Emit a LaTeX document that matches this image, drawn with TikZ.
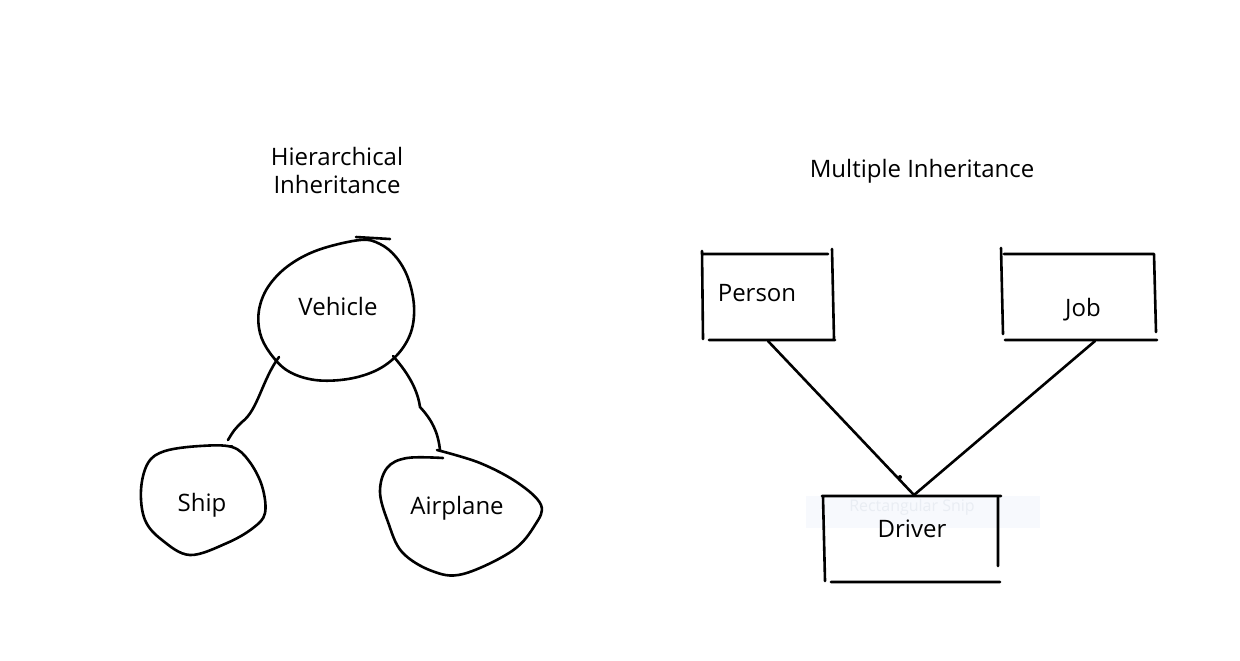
\documentclass[tikz,border=0pt]{standalone}
\usepackage{fontspec}
\setmainfont{Open Sans}
\definecolor{snipband}{HTML}{F7F9FD}
\definecolor{sniptext}{HTML}{E9EDF3}
\begin{document}
\begin{tikzpicture}[x=0.5pt, y=-0.5pt,
                every node/.style = {font=\fontsize{12}{15}\selectfont, align=center},
                sketch/.style = {line width=1.3pt, line cap=round, line join=round},
                blob/.style = {sketch, smooth cycle, tension=0.6}]
    \useasboundingbox (0,0) rectangle (1240,660);

    % left part
    \node (hier) at (337,170) {Hierarchical\\[-1pt]Inheritance};
    \draw[sketch] plot[blob] coordinates {(360,240) (318,250) (288,266) (268,287) (259,310) (260,333)
        (270,353) (288,371) (315,380) (348,379) (377,370) (398,354) (411,332) (414,306) (408,278) (396,257) (380,244)};
    \draw[sketch] (356,237) -- (390,239);
    \node (vehicle) at (338,306) {Vehicle};

    \draw[sketch] plot[blob] coordinates {(200,446) (232,447) (249,461) (262,486) (265,513) (253,528)
        (227,543) (190,555) (162,540) (145,520) (141,490) (148,463) (165,451)};
    \draw[sketch] (226,446) -- (232,446);
    \node (ship) at (202,505) {Ship};

    \draw[sketch] plot[smooth, tension=0.6] coordinates {(443,458) (407,458) (387,468) (380,492)
        (388,522) (402,552) (432,571) (463,574) (512,551) (535,525) (541,505) (518,483) (480,463) (437,450)};
    \node (airplane) at (457,508) {Airplane};

    \coordinate (vehicle-l) at (279,357);
    \coordinate (vehicle-r) at (393,356);
    \coordinate (ship-t) at (228,440);
    \coordinate (airplane-t) at (440,450);
    \draw[sketch] (vehicle-l) .. controls (262,380) and (258,410) .. (242,422) .. controls (234,430) .. (ship-t);
    \draw[sketch] (vehicle-r) .. controls (410,375) and (418,392) .. (420,407) .. controls (432,420) and (438,432) .. (airplane-t);

    % right part
    \node (multi) at (922,171) {Multiple Inheritance};

    \draw[sketch] (703,254) -- (828,254) (702,251) -- (703,339) (832,249) -- (834,339) (709,340) -- (835,340);
    \node (person) at (757,293) {Person};

    \draw[sketch] (1004,254) -- (1154,254) (1001,248) -- (1003,334) (1154,254) -- (1156,332) (1005,340) -- (1157,340);
    \node (job) at (1083,310) {Job};

    \fill[snipband] (806,496) rectangle (1040,528);
    \node[text=sniptext, font=\fontsize{8}{10}\selectfont, inner sep=0pt] (snip) at (912,507) {Rectangular Snip};
    \draw[sketch] (822,496) -- (1001,496) (823,497) -- (825,581) (998,498) -- (998,566) (831,582) -- (1000,582);
    \node[inner sep=0pt] (driver) at (912,529) {Driver};

    \coordinate (person-b) at (768,341);
    \coordinate (job-b) at (1095,341);
    \coordinate (driver-t) at (914,495);
    \draw[sketch] (person-b) -- (driver-t);
    \draw[sketch] (job-b) -- (driver-t);
    \fill (900,477) circle (1pt);
\end{tikzpicture}
\end{document}
